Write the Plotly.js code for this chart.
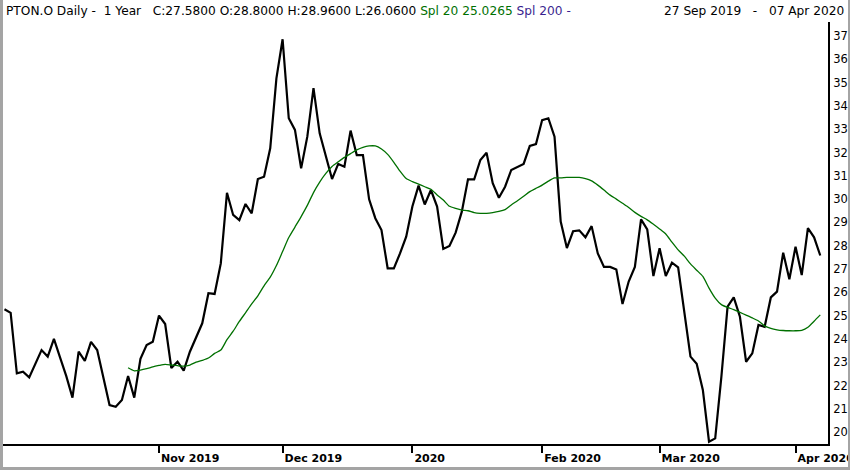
<!DOCTYPE html>
<html>
<head>
<meta charset="utf-8">
<script src="https://cdn.plot.ly/plotly-3.0.1.min.js"></script>
<style>
  html, body { margin: 0; padding: 0; background: #fff; }
  #wrap { position: relative; width: 850px; height: 470px; }
  #chart { width: 850px; height: 470px; }
  #frame { position: absolute; left: 0; top: 0; width: 850px; height: 470px; box-sizing: border-box;
           border-left: 3px solid #a4a4a4; border-right: 2px solid #a4a4a4; border-bottom: 3px solid #a4a4a4;
           pointer-events: none; }
</style>
</head>
<body>
<div id="wrap"><div id="chart"></div><div id="frame"></div></div>
<script>
// ---- Calendar (trading days, NYSE) ----
const startDate = '2019-09-27';
const endDate = '2020-04-07';
const holidays = ['2019-11-28', '2019-12-25', '2020-01-01', '2020-01-20', '2020-02-17'];

// ---- Daily close values ----
const closes = [
  25.27, 25.12, 22.52, 22.59, 22.35, 22.95, 23.52, 23.24, 24.00, 23.20,
  22.40, 21.48, 23.45, 23.06, 23.87, 23.52, 22.30, 21.16, 21.09, 21.38,
  22.41, 21.48, 23.15, 23.74, 23.88, 25.00, 24.64, 22.75, 23.02, 22.64,
  23.45, 24.03, 24.67, 25.96, 25.93, 27.24, 30.27, 29.32, 29.10, 29.79,
  29.39, 30.86, 30.96, 32.18, 35.18, 36.86, 33.47, 32.97, 31.32, 32.68,
  34.76, 32.82, 31.89, 30.86, 31.51, 31.39, 32.94, 31.89, 31.89, 29.99,
  29.18, 28.67, 27.03, 27.03, 27.67, 28.39, 29.68, 30.58, 29.77, 30.39,
  29.68, 27.86, 27.99, 28.56, 29.46, 30.85, 30.85, 31.68, 31.99, 30.68,
  30.06, 30.53, 31.25, 31.39, 31.51, 32.28, 32.36, 33.39, 33.47, 32.68,
  29.04, 27.90, 28.62, 28.66, 28.36, 28.84, 27.67, 27.09, 27.09, 26.98,
  25.50, 26.46, 27.09, 29.13, 28.70, 26.70, 27.89, 26.70, 27.27, 27.07,
  25.20, 23.24, 22.93, 21.81, 19.59, 19.73, 22.38, 25.38, 25.78, 24.95,
  23.02, 23.38, 24.60, 24.52, 25.78, 26.03, 27.70, 26.56, 27.96, 26.74,
  28.75, 28.36, 27.58
];

// ---- Spl 20 values (start at the 21st trading day) ----
const splStartIndex = 20;
const spl20 = [
  22.76, 22.63, 22.66, 22.72, 22.80, 22.86, 22.91, 22.88, 22.85, 22.83,
  22.88, 23.00, 23.08, 23.18, 23.38, 23.52, 23.97, 24.33, 24.75, 25.12,
  25.50, 25.85, 26.28, 26.65, 27.15, 27.75, 28.35, 28.80, 29.25, 29.73,
  30.28, 30.73, 31.10, 31.40, 31.60, 31.79, 31.95, 32.11, 32.22, 32.28,
  32.28, 32.15, 31.92, 31.58, 31.20, 30.88, 30.75, 30.64, 30.53, 30.42,
  30.18, 29.96, 29.69, 29.60, 29.53, 29.50, 29.42, 29.39, 29.39, 29.42,
  29.47, 29.55, 29.75, 29.93, 30.12, 30.32, 30.46, 30.60, 30.77, 30.91,
  30.91, 30.93, 30.93, 30.93, 30.88, 30.78, 30.60, 30.39, 30.17, 30.00,
  29.82, 29.64, 29.43, 29.26, 29.11, 28.92, 28.72, 28.50, 28.15, 27.82,
  27.55, 27.22, 26.95, 26.68, 26.18, 25.75, 25.47, 25.35, 25.26, 25.14,
  25.02, 24.90, 24.77, 24.56, 24.45, 24.39, 24.36, 24.35, 24.35, 24.37,
  24.50, 24.76, 25.03
];

// ---- Axis ticks ----
const tickDates = ['2019-11-01', '2019-12-02', '2020-01-02', '2020-02-03', '2020-03-02', '2020-04-01'];
const tickLabels = ['Nov 2019', 'Dec 2019', '2020', 'Feb 2020', 'Mar 2020', 'Apr 2020'];

// ---- Header texts ----
const headerLeft = 'PTON.O Daily -&nbsp; 1 Year&nbsp;&nbsp; C:27.5800 O:28.8000 H:28.9600 L:26.0600 ';
const headerSpl20 = 'Spl 20 25.0265';
const headerSpl200 = 'Spl 200 -';
const headerRange = '27 Sep 2019&nbsp;&nbsp; -&nbsp;&nbsp; 07 Apr 2020';

function tradingDays(s, e, hol) {
  const out = [];
  const d = new Date(s + 'T00:00:00Z');
  const end = new Date(e + 'T00:00:00Z');
  while (d <= end) {
    const iso = d.toISOString().slice(0, 10);
    const wd = d.getUTCDay();
    if (wd !== 0 && wd !== 6 && hol.indexOf(iso) < 0) out.push(iso);
    d.setUTCDate(d.getUTCDate() + 1);
  }
  return out;
}
const dates = tradingDays(startDate, endDate, holidays);

const FONT = 'DejaVu Sans, Verdana, sans-serif';

const traces = [
  {
    x: dates, y: closes, type: 'scatter', mode: 'lines',
    line: { color: '#000000', width: 2.2 }, hoverinfo: 'x+y', name: 'PTON.O'
  },
  {
    x: dates.slice(splStartIndex), y: spl20, type: 'scatter', mode: 'lines',
    line: { color: '#007000', width: 1.3, shape: 'spline', smoothing: 0.6 }, name: 'Spl 20'
  }
];

const layout = {
  width: 850, height: 470,
  margin: { l: 3, r: 22, t: 22, b: 26, pad: 0 },
  paper_bgcolor: '#ffffff', plot_bgcolor: '#ffffff',
  showlegend: false,
  font: { family: FONT, color: '#000' },
  xaxis: {
    type: 'category',
    categoryorder: 'array', categoryarray: dates,
    range: [-0.24, 133.25],
    tickmode: 'array', tickvals: tickDates, ticktext: tickLabels,
    ticks: 'outside', ticklen: 7, tickwidth: 2, tickcolor: '#000',
    ticklabelposition: 'outside right', ticklabelstandoff: 3,
    tickfont: { family: FONT, size: 11, color: '#000', weight: 'bold' },
    showgrid: false, zeroline: false,
    showline: true, linecolor: '#000', linewidth: 2,
    automargin: false, fixedrange: true
  },
  yaxis: {
    side: 'right',
    range: [19.49, 37.6],
    tick0: 20, dtick: 1,
    ticks: '', ticklabelstandoff: 1,
    tickfont: { family: FONT, size: 11.5, color: '#000' },
    showgrid: false, zeroline: false,
    showline: true, linecolor: '#000', linewidth: 2,
    automargin: false, fixedrange: true
  },
  annotations: [
    {
      xref: 'paper', yref: 'paper', x: 0.0012, y: 1.026, xanchor: 'left', yanchor: 'middle',
      showarrow: false, align: 'left',
      font: { family: FONT, size: 12.2, color: '#000' },
      text: headerLeft + '<span style="color:#007000">' + headerSpl20 + '</span> <span style="color:#3a1f8f">' + headerSpl200 + '</span>'
    },
    {
      xref: 'paper', yref: 'paper', x: 1.0218, y: 1.026, xanchor: 'right', yanchor: 'middle',
      showarrow: false,
      font: { family: FONT, size: 12.2, color: '#000' },
      text: headerRange
    }
  ]
};

Plotly.newPlot('chart', traces, layout, { displayModeBar: false, staticPlot: true });
</script>
</body>
</html>
